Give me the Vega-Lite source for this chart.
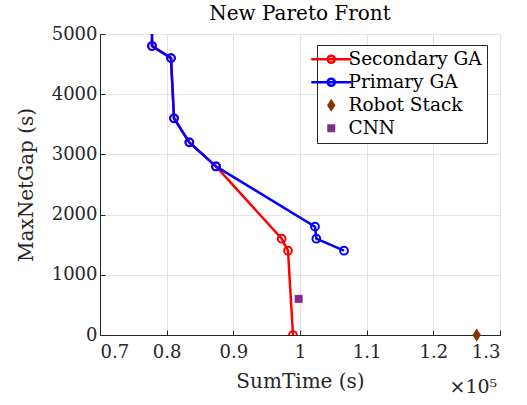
{
  "$schema": "https://vega.github.io/schema/vega-lite/v6.json",
  "width": 400,
  "height": 301,
  "autosize": "none",
  "padding": {"left": 100, "top": 34, "right": 27, "bottom": 70},
  "title": {"text": "New Pareto Front", "fontSize": 20, "fontWeight": "normal", "color": "#000000", "offset": 1},
  "data": {"values": [
    {"series": "Secondary GA", "t": 77800, "gap": 6000, "idx": 0},
    {"series": "Secondary GA", "t": 77800, "gap": 4800, "idx": 1},
    {"series": "Secondary GA", "t": 80650, "gap": 4600, "idx": 2},
    {"series": "Secondary GA", "t": 81100, "gap": 3600, "idx": 3},
    {"series": "Secondary GA", "t": 83400, "gap": 3200, "idx": 4},
    {"series": "Secondary GA", "t": 87400, "gap": 2800, "idx": 5},
    {"series": "Secondary GA", "t": 97250, "gap": 1600, "idx": 6},
    {"series": "Secondary GA", "t": 98200, "gap": 1400, "idx": 7},
    {"series": "Secondary GA", "t": 98950, "gap": 0, "idx": 8},
    {"series": "Primary GA", "t": 77800, "gap": 6000, "idx": 0},
    {"series": "Primary GA", "t": 77800, "gap": 4800, "idx": 1},
    {"series": "Primary GA", "t": 80650, "gap": 4600, "idx": 2},
    {"series": "Primary GA", "t": 81100, "gap": 3600, "idx": 3},
    {"series": "Primary GA", "t": 83400, "gap": 3200, "idx": 4},
    {"series": "Primary GA", "t": 87400, "gap": 2800, "idx": 5},
    {"series": "Primary GA", "t": 102250, "gap": 1800, "idx": 6},
    {"series": "Primary GA", "t": 102450, "gap": 1600, "idx": 7},
    {"series": "Primary GA", "t": 106600, "gap": 1400, "idx": 8},
    {"series": "Robot Stack", "t": 126500, "gap": 0, "idx": 0},
    {"series": "CNN", "t": 99800, "gap": 600, "idx": 0}
  ]},
  "encoding": {
    "x": {"field": "t", "type": "quantitative", "scale": {"domain": [70000, 130000], "nice": false, "zero": false},
      "axis": {"title": "SumTime (s)", "values": [70000, 80000, 90000, 100000, 110000, 120000, 130000], "labelExpr": "format(datum.value / 100000, '.2~g')", "titlePadding": 10, "labelPadding": 13}},
    "y": {"field": "gap", "type": "quantitative", "scale": {"domain": [0, 5000], "nice": false},
      "axis": {"title": "MaxNetGap (s)", "values": [0, 1000, 2000, 3000, 4000, 5000], "format": "d", "titlePadding": 15, "labelPadding": 8}}
  },
  "layer": [
    {
      "transform": [{"filter": "datum.series === 'Secondary GA'"}],
      "mark": {"type": "line", "clip": true, "strokeWidth": 2.5},
      "encoding": {
        "order": {"field": "idx", "type": "quantitative"},
        "color": {"field": "series", "type": "nominal",
          "scale": {"domain": ["Secondary GA", "Primary GA", "Robot Stack", "CNN"], "range": ["#ff0000", "#0000ff", "#8a3300", "#7e2f8e"]},
          "legend": {
            "title": null, "orient": "none", "legendX": 217, "legendY": 11,
            "strokeColor": "#262626", "fillColor": "#ffffff", "padding": 5,
            "labelFontSize": 18.5, "labelColor": "#000000", "labelFont": "DejaVu Serif",
            "symbolSize": 1600, "rowPadding": 4, "labelOffset": 8,
            "encode": {"symbols": {"update": {
              "shape": {"signal": "indexof(['Secondary GA','Primary GA'], datum.value) >= 0 ? 'M-1,0H1M0.18,0A0.18,0.18 0 1,1 -0.18,0A0.18,0.18 0 1,1 0.18,0' : datum.value === 'Robot Stack' ? 'M0,-1L0.65,0L0,1L-0.65,0Z' : 'square'"},
              "size": {"signal": "indexof(['Secondary GA','Primary GA'], datum.value) >= 0 ? 1600 : (datum.value === 'Robot Stack' ? 170 : 64)"},
              "fill": {"signal": "indexof(['Secondary GA','Primary GA'], datum.value) >= 0 ? 'transparent' : scale('color', datum.value)"},
              "fillOpacity": {"signal": "indexof(['Secondary GA','Primary GA'], datum.value) >= 0 ? 0 : 1"},
              "stroke": {"signal": "scale('color', datum.value)"},
              "strokeWidth": {"signal": "indexof(['Secondary GA','Primary GA'], datum.value) >= 0 ? 2.5 : 0"},
              "opacity": {"value": 1}
            }}}
          }}
      }
    },
    {
      "transform": [{"filter": "datum.series === 'Secondary GA'"}],
      "mark": {"type": "point", "clip": true, "filled": false, "size": 60, "strokeWidth": 2, "opacity": 1},
      "encoding": {"color": {"field": "series", "type": "nominal"}}
    },
    {
      "transform": [{"filter": "datum.series === 'Primary GA'"}],
      "mark": {"type": "line", "clip": true, "strokeWidth": 2.5},
      "encoding": {
        "order": {"field": "idx", "type": "quantitative"},
        "color": {"field": "series", "type": "nominal"}
      }
    },
    {
      "transform": [{"filter": "datum.series === 'Primary GA'"}],
      "mark": {"type": "point", "clip": true, "filled": false, "size": 60, "strokeWidth": 2, "opacity": 1},
      "encoding": {"color": {"field": "series", "type": "nominal"}}
    },
    {
      "transform": [{"filter": "datum.series === 'Robot Stack' || datum.series === 'CNN'"}],
      "mark": {"type": "point", "filled": true, "opacity": 1},
      "encoding": {
        "color": {"field": "series", "type": "nominal"},
        "shape": {"field": "series", "type": "nominal", "scale": {"domain": ["Robot Stack", "CNN"], "range": ["M0,-1L0.65,0L0,1L-0.65,0Z", "square"]}, "legend": null},
        "size": {"field": "series", "type": "nominal", "scale": {"domain": ["Robot Stack", "CNN"], "range": [170, 64]}, "legend": null}
      }
    },
    {
      "data": {"values": [{"label": "×10⁵", "t": 126000, "gap": 0}]},
      "mark": {"type": "text", "fontSize": 19, "dy": 52, "color": "#262626", "font": "DejaVu Serif"},
      "encoding": {"text": {"field": "label"}}
    }
  ],
  "config": {
    "font": "DejaVu Serif",
    "view": {"stroke": null},
    "axis": {
      "grid": true, "gridColor": "#e3e3e3", "gridWidth": 1,
      "domainColor": "#262626", "domainWidth": 1,
      "tickColor": "#262626", "tickSize": -5, "tickWidth": 1,
      "labelColor": "#262626", "labelFontSize": 18, "labelFont": "DejaVu Serif",
      "titleColor": "#262626", "titleFontSize": 20, "titleFontWeight": "normal", "titleFont": "DejaVu Serif"
    }
  }
}
